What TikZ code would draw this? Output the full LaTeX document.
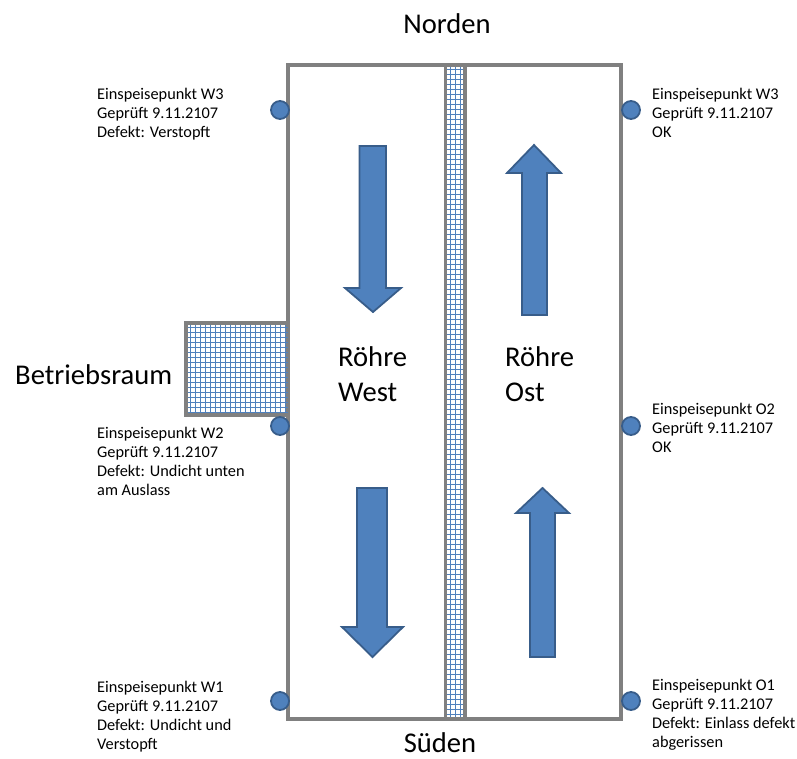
\documentclass[tikz,border=0pt]{standalone}
\usepackage{fontspec}
\setmainfont{Carlito}
\definecolor{ofblue}{HTML}{4F81BD}
\definecolor{ofdark}{HTML}{385D8A}
\definecolor{ofgray}{HTML}{808080}
\begin{document}
\begin{tikzpicture}[x=1pt,y=-1pt,
  wall/.style={draw=ofgray,line width=3.5pt},
  flow/.style={fill=ofblue,draw=ofdark,line width=1.8pt,line join=miter},
  feed/.style={circle,fill=ofblue,draw=ofdark,line width=1.8pt,minimum size=18pt,inner sep=0pt},
  small/.style={font=\fontsize{16.3}{19.2}\selectfont,align=left,anchor=base west,inner sep=0pt},
  big/.style={font=\fontsize{28.6}{35}\selectfont,inner sep=0pt},
  gridlines/.style={draw=ofblue,line width=0.9pt}]
\useasboundingbox (0,0) rectangle (797,758);
% main tunnel block
\draw[wall,fill=white] (288,65) rectangle (621,719);
% Betriebsraum grid
\foreach \x in {190,195,...,285} \draw[gridlines] (\x,323) -- (\x,415);
\foreach \y in {327,332,...,412} \draw[gridlines] (186,\y) -- (288,\y);
\draw[wall] (288,323) -- (186,323) -- (186,415) -- (288,415);
% middle strip
\foreach \x in {450,455,460} \draw[gridlines] (\x,65) -- (\x,719);
\foreach \y in {69,74,...,716} \draw[gridlines] (446,\y) -- (464,\y);
\draw[wall] (445.5,65) rectangle (465,719);
% flow arrows
\draw[flow] (359.5,146) -- (386,146) -- (386,288) -- (401,288) -- (373,312) -- (345,288) -- (359.5,288) -- cycle;
\draw[flow] (357,488) -- (387,488) -- (387,627) -- (403,627) -- (372.5,657) -- (342,627) -- (357,627) -- cycle;
\draw[flow] (530,657) -- (555,657) -- (555,513) -- (569,513) -- (542.5,488) -- (516,513) -- (530,513) -- cycle;
\draw[flow] (522,315) -- (547,315) -- (547,173) -- (561,173) -- (534,145) -- (507,173) -- (522,173) -- cycle;
% feed points
\node[feed] (w3) at (280,110) {};
\node[feed] (w2) at (280,426) {};
\node[feed] (w1) at (280,701) {};
\node[feed] (o3) at (631,110) {};
\node[feed] (o2) at (631,426) {};
\node[feed] (o1) at (631,701) {};
% big labels (base anchor = last line baseline)
\node[big,anchor=base] (nord) at (447,33) {Norden};
\node[big,anchor=base,text depth=0pt] (sued) at (440,752) {Süden};
\node[big,anchor=base west] (betr) at (15,384) {Betriebsraum};
\node[big,anchor=base west,align=left] (rw) at (338,401) {Röhre\\West};
\node[big,anchor=base west,align=left] (ro) at (505,401) {Röhre\\Ost};
% small labels
\node[small] (tw3) at (97,137.4) {Einspeisepunkt W3\\Geprüft 9.11.2107\\Defekt: Verstopft};
\node[small] (to3) at (652,137.4) {Einspeisepunkt W3\\Geprüft 9.11.2107\\OK};
\node[small] (tw2) at (97,495.6) {Einspeisepunkt W2\\Geprüft 9.11.2107\\Defekt: Undicht unten\\am Auslass};
\node[small] (to2) at (652,452.4) {Einspeisepunkt O2\\Geprüft 9.11.2107\\OK};
\node[small] (tw1) at (97,749.6) {Einspeisepunkt W1\\Geprüft 9.11.2107\\Defekt: Undicht und\\Verstopft};
\node[small] (to1) at (652,747.6) {Einspeisepunkt O1\\Geprüft 9.11.2107\\Defekt: Einlass defekt\\abgerissen};
\end{tikzpicture}
\end{document}
